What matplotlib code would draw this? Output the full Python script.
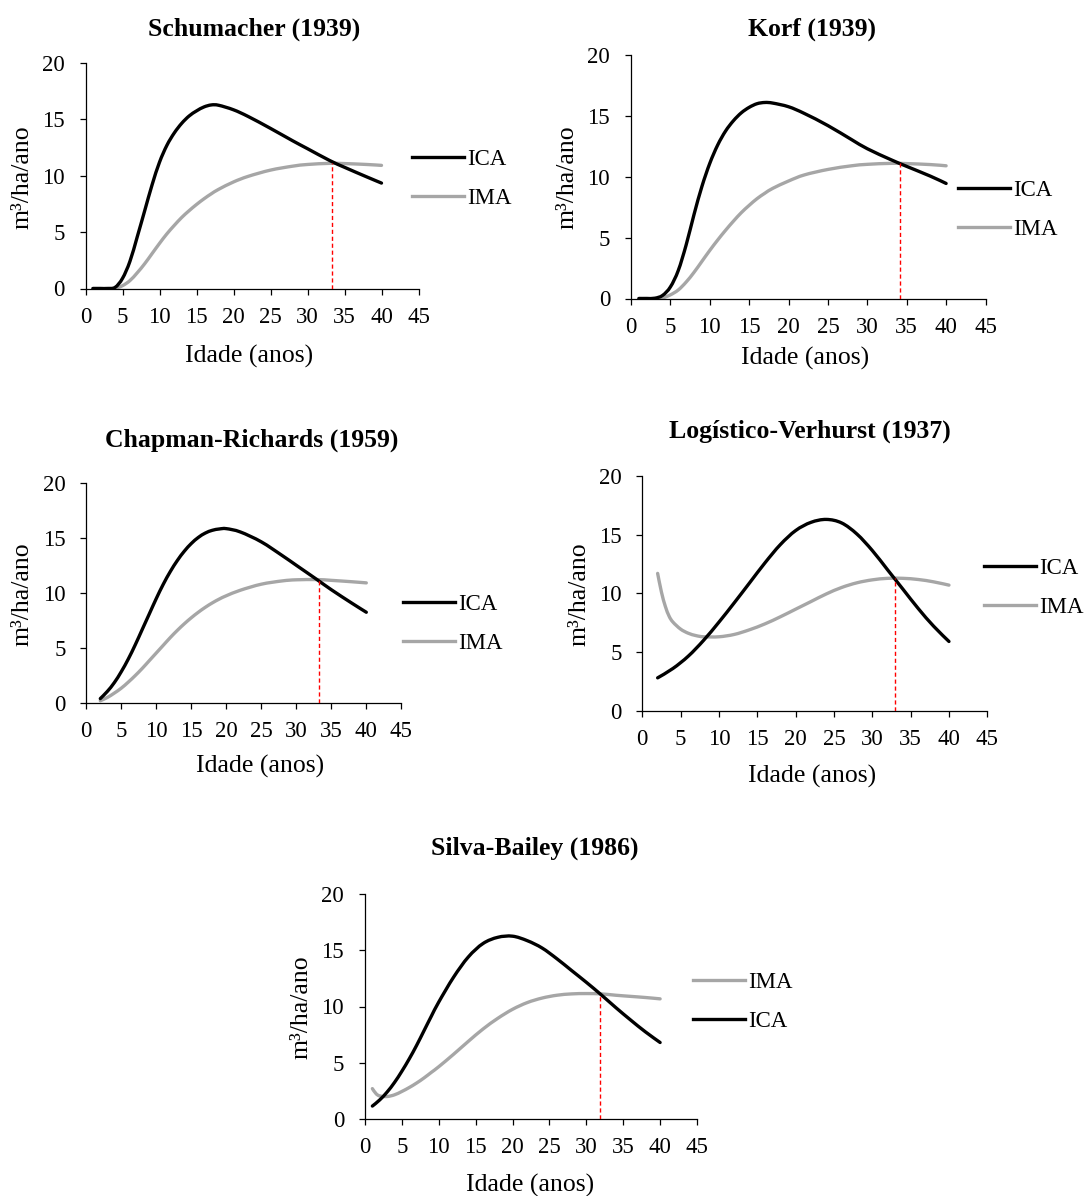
import matplotlib
matplotlib.use("Agg")
import matplotlib.pyplot as plt
from matplotlib.path import Path
from matplotlib.patches import PathPatch
from matplotlib.lines import Line2D

plt.rcParams['font.family'] = ['Liberation Serif', 'DejaVu Serif']

W, H = 1089, 1196
DPI = 100

titles = ["Schumacher (1939)", "Korf (1939)", "Chapman-Richards (1959)",
          "Logístico-Verhurst (1937)", "Silva-Bailey (1986)"]

ages1 = [1, 2, 3, 4, 5, 6, 7, 8, 9, 10, 11, 12, 13, 14, 15, 16, 17, 18, 20, 22, 25, 28, 30, 33, 35, 38, 40]
ica1 = [0, 0, 0, 0.1, 0.9, 2.4, 4.6, 6.9, 9.2, 11.2, 12.7, 13.8, 14.65, 15.3, 15.75, 16.1, 16.28, 16.25, 15.85, 15.25, 14.2, 13.1, 12.4, 11.35, 10.75, 9.9, 9.35]
ima1 = [0, 0, 0, 0.02, 0.25, 0.7, 1.4, 2.2, 3.1, 4.0, 4.85, 5.6, 6.3, 6.9, 7.45, 7.95, 8.4, 8.8, 9.45, 9.95, 10.5, 10.85, 11.0, 11.1, 11.08, 11.0, 10.92]

ages2 = [1, 2, 3, 4, 5, 6, 7, 8, 9, 10, 11, 12, 13, 14, 15, 16, 17, 18, 20, 22, 25, 28, 30, 33, 35, 38, 40]
ica2 = [0, 0, 0.02, 0.25, 0.95, 2.3, 4.4, 6.9, 9.2, 11.1, 12.6, 13.75, 14.6, 15.25, 15.7, 16.0, 16.1, 16.05, 15.75, 15.2, 14.2, 13.05, 12.3, 11.4, 10.85, 10.05, 9.45]
ima2 = [0, 0, 0, 0.05, 0.3, 0.7, 1.35, 2.15, 3.05, 3.95, 4.8, 5.6, 6.35, 7.05, 7.65, 8.2, 8.65, 9.05, 9.65, 10.15, 10.6, 10.9, 11.02, 11.1, 11.08, 11.0, 10.9]

ages3 = [2, 3, 4, 5, 6, 7, 8, 9, 10, 11, 12, 13, 14, 15, 16, 17, 18, 19, 20, 22, 25, 28, 30, 33, 35, 38, 40]
ica3 = [0.4, 1.05, 1.85, 2.85, 4.0, 5.3, 6.7, 8.1, 9.5, 10.8, 11.95, 12.95, 13.8, 14.5, 15.05, 15.45, 15.7, 15.82, 15.85, 15.55, 14.65, 13.4, 12.52, 11.2, 10.3, 9.05, 8.25]
ima3 = [0.2, 0.5, 0.9, 1.35, 1.9, 2.5, 3.15, 3.85, 4.55, 5.25, 5.95, 6.6, 7.2, 7.75, 8.25, 8.7, 9.1, 9.45, 9.75, 10.25, 10.8, 11.1, 11.2, 11.22, 11.15, 11.02, 10.92]

ages4 = [2, 4, 6, 8, 10, 12, 14, 16, 18, 20, 22, 24, 26, 28, 30, 32, 34, 36, 38, 40]
ica4 = [2.8, 3.6, 4.65, 6.0, 7.55, 9.2, 10.9, 12.6, 14.15, 15.35, 16.05, 16.3, 16.0, 15.05, 13.65, 12.0, 10.35, 8.7, 7.2, 5.9]
ages4_ima = [2, 2.5, 3, 3.5, 4, 5, 6, 7, 8, 10, 12, 14, 16, 18, 20, 22, 24, 26, 28, 30, 32, 34, 36, 38, 40]
ima4 = [11.7, 10.1, 8.9, 8.05, 7.55, 6.95, 6.6, 6.4, 6.3, 6.3, 6.5, 6.9, 7.4, 8.0, 8.65, 9.3, 9.95, 10.5, 10.9, 11.15, 11.28, 11.28, 11.18, 10.98, 10.7]

ages5 = [1, 2, 3, 4, 5, 6, 7, 8, 9, 10, 12, 14, 16, 18, 20, 22, 24, 26, 28, 30, 32, 34, 36, 38, 40]
ica5 = [1.15, 1.7, 2.4, 3.25, 4.25, 5.35, 6.55, 7.85, 9.15, 10.4, 12.6, 14.4, 15.6, 16.15, 16.25, 15.85, 15.2, 14.25, 13.2, 12.15, 11.05, 9.9, 8.8, 7.75, 6.8]
ages5_ima = [1, 1.5, 2, 3, 4, 5, 6, 7, 8, 9, 10, 12, 14, 16, 18, 20, 22, 24, 26, 28, 30, 32, 34, 36, 38, 40]
ima5 = [2.7, 2.25, 2.05, 2.0, 2.15, 2.45, 2.8, 3.2, 3.65, 4.15, 4.65, 5.75, 6.9, 8.0, 8.95, 9.75, 10.35, 10.75, 11.0, 11.12, 11.15, 11.12, 11.0, 10.9, 10.8, 10.68]

cross_age = [33.35, 34.1, 33.2, 32.95, 31.85]
cross_val = [11.15, 11.1, 11.22, 11.3, 11.13]

xticks = [0, 5, 10, 15, 20, 25, 30, 35, 40, 45]
yticks = [0, 5, 10, 15, 20]

series = [(ages1, ica1, ages1, ima1), (ages2, ica2, ages2, ima2),
          (ages3, ica3, ages3, ima3), (ages4, ica4, ages4_ima, ima4),
          (ages5, ica5, ages5_ima, ima5)]

# layout in pixels: (left, right, top, bottom)
boxes = [(85.5, 418.5, 63, 288.5), (631, 985.5, 55, 298.5), (86.3, 401.3, 483, 703),
         (642.3, 987.3, 476, 710.7), (365, 697, 894, 1119)]
legend_pos = [(412, 178.7), (958, 210), (403, 624), (984, 588), (693, 1002)]
ylab_pos = [(22.7, 177), (567.7, 177), (22.7, 594), (580, 594), (302, 1007)]
xlab_pos = [(249, 356), (805, 358), (260, 766), (812, 776), (530, 1185)]
title_pos = [(254, 29), (812, 29), (252, 440), (810, 431), (535, 848)]
legend_order = [("ICA", "IMA"), ("ICA", "IMA"), ("ICA", "IMA"), ("ICA", "IMA"), ("IMA", "ICA")]

GRAY = "#A6A6A6"
LW = 2.4
TICK_FS = 16.5
LABEL_FS = 18.5

fig = plt.figure(figsize=(W / DPI, H / DPI), dpi=DPI)


def fx(px):
    return px / W


def fy(py):
    return 1 - py / H


def smooth_path(xs, ys):
    """Smoothed (Excel-like) Bezier path through the data points."""
    pts = list(zip(xs, ys))
    n = len(pts)
    verts = [pts[0]]
    codes = [Path.MOVETO]
    for k in range(n - 1):
        p0 = pts[k - 1] if k > 0 else pts[k]
        p1 = pts[k]
        p2 = pts[k + 1]
        p3 = pts[k + 2] if k + 2 < n else pts[k + 1]
        c1 = (p1[0] + (p2[0] - p0[0]) / 6.0, p1[1] + (p2[1] - p0[1]) / 6.0)
        c2 = (p2[0] - (p3[0] - p1[0]) / 6.0, p2[1] - (p3[1] - p1[1]) / 6.0)
        verts += [c1, c2, p2]
        codes += [Path.CURVE4] * 3
    return Path(verts, codes)


for i in range(5):
    l, r, t, b = boxes[i]
    ax = fig.add_axes([fx(l), fy(b), (r - l) / W, (b - t) / H])
    xa, ica, xb, ima = series[i]
    ax.add_patch(PathPatch(smooth_path(xa, ica), fill=False, edgecolor="black",
                           lw=LW, capstyle="round", joinstyle="round", zorder=3))
    ax.add_patch(PathPatch(smooth_path(xb, ima), fill=False, edgecolor=GRAY,
                           lw=LW, capstyle="round", joinstyle="round", zorder=2))
    ax.plot([cross_age[i], cross_age[i]], [0, cross_val[i]], color="#FF0000",
            lw=1.0, linestyle=(0, (3, 2)), zorder=4)
    ax.set_xlim(0, 45)
    ax.set_ylim(0, 20)
    ax.set_xticks(xticks)
    ax.set_yticks(yticks)
    for s in ("top", "right"):
        ax.spines[s].set_visible(False)
    for s in ("left", "bottom"):
        ax.spines[s].set_linewidth(0.9)
    ax.tick_params(axis="both", direction="out", length=4, width=0.9, labelsize=TICK_FS)
    ax.tick_params(axis="x", pad=9)
    ax.tick_params(axis="y", pad=11)
    ax.set_facecolor("none")

    ax.set_ylabel("m³/ha/ano", fontsize=LABEL_FS)
    ax.set_xlabel("Idade (anos)", fontsize=LABEL_FS)
    ax.yaxis.label.set_va("center")
    ax.xaxis.label.set_va("center")
    yx, yy = ylab_pos[i]
    ax.yaxis.set_label_coords((yx - l) / (r - l), (b - yy) / (b - t))
    xx, xy = xlab_pos[i]
    ax.xaxis.set_label_coords((xx - l) / (r - l), (b - xy) / (b - t))

    tx, ty = title_pos[i]
    ax.set_title(titles[i], fontsize=LABEL_FS, fontweight="bold",
                 x=(tx - l) / (r - l), y=(b - ty) / (b - t), va="center", pad=0)

    handles = {"ICA": Line2D([], [], color="black", lw=LW),
               "IMA": Line2D([], [], color=GRAY, lw=LW)}
    order = legend_order[i]
    lx, ly = legend_pos[i]
    ax.legend([handles[k] for k in order], list(order), loc="center left",
              bbox_to_anchor=(fx(lx), fy(ly)), bbox_transform=fig.transFigure,
              frameon=False, fontsize=TICK_FS, handlelength=2.25, handletextpad=0.15,
              labelspacing=0.8, borderpad=0, borderaxespad=0)

fig.savefig("out.png", dpi=DPI)
